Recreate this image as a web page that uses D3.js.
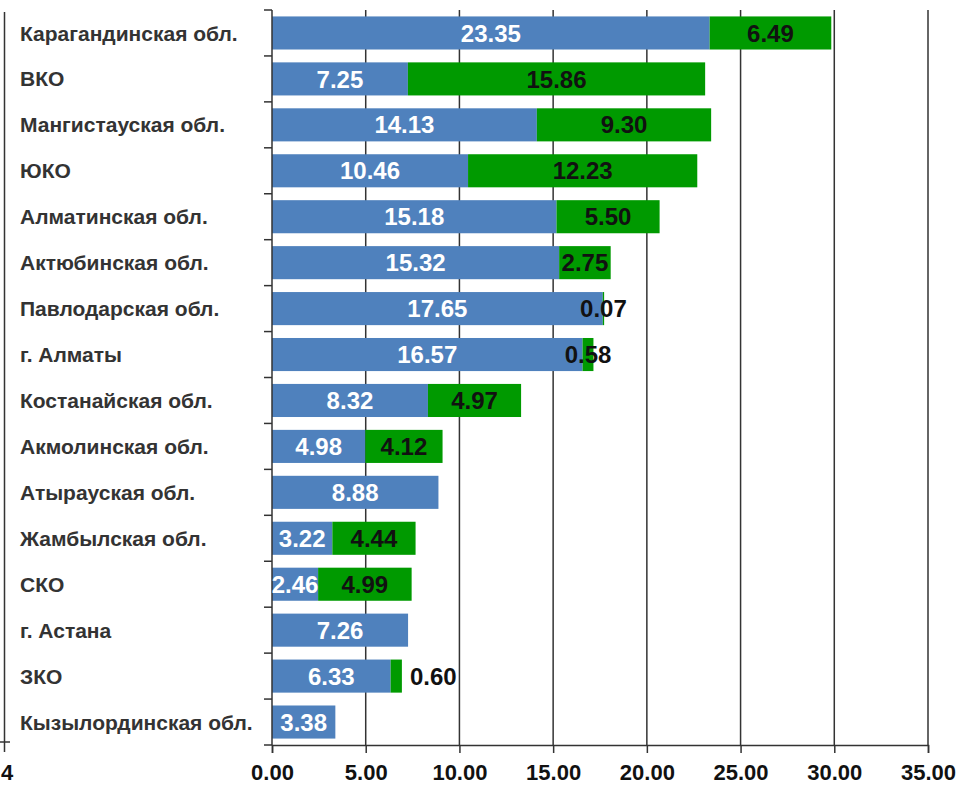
<!DOCTYPE html>
<html><head><meta charset="utf-8">
<script src="https://cdn.jsdelivr.net/npm/d3@7"></script>
<style>body{margin:0;background:#fff;} svg{display:block;font-family:"Liberation Sans",Arial,sans-serif;}</style>
</head><body>
<svg id="chart" width="965" height="785"></svg>
<script>
const categories = ["Карагандинская обл.","ВКО","Мангистауская обл.","ЮКО","Алматинская обл.","Актюбинская обл.","Павлодарская обл.","г. Алматы","Костанайская обл.","Акмолинская обл.","Атырауская обл.","Жамбылская обл.","СКО","г. Астана","ЗКО","Кызылординская обл."];
const blueValues = [23.35,7.25,14.13,10.46,15.18,15.32,17.65,16.57,8.32,4.98,8.88,3.22,2.46,7.26,6.33,3.38];
const greenValues = [6.49,15.86,9.30,12.23,5.50,2.75,0.07,0.58,4.97,4.12,null,4.44,4.99,null,0.60,null];
const greenLabelOutside = ["ЗКО"];
const xTicks = [0,5,10,15,20,25,30,35];

const svg = d3.select("#chart");
const x = d3.scaleLinear().domain([0,35]).range([272,928]);
const y = d3.scaleBand().domain(categories).range([10,745]).paddingInner(0.28).paddingOuter(0.14);
const step = y.step();

// left stray axis
svg.append("line").attr("x1",4.5).attr("x2",4.5).attr("y1",12).attr("y2",752).attr("stroke","#333").attr("stroke-width",1.5);
svg.append("line").attr("x1",0).attr("x2",10).attr("y1",742).attr("y2",742).attr("stroke","#333").attr("stroke-width",1.5);
svg.append("text").attr("x",1).attr("y",780).attr("font-size",22).attr("font-weight","bold").attr("fill","#111").text("4");

// gridlines
svg.append("g").selectAll("line").data(xTicks.slice(1)).join("line")
  .attr("x1",d=>x(d)).attr("x2",d=>x(d)).attr("y1",10).attr("y2",745)
  .attr("stroke","#333").attr("stroke-width",1.5);

// bars
const rows = categories.map((c,i)=>({c, b:blueValues[i], g:greenValues[i]}));
const gb = svg.append("g");
gb.selectAll("rect.b").data(rows).join("rect").attr("class","b")
  .attr("x",x(0)).attr("y",d=>y(d.c)).attr("width",d=>x(d.b)-x(0)).attr("height",y.bandwidth())
  .attr("fill","#4f81bd");
gb.selectAll("rect.g").data(rows.filter(d=>d.g!=null)).join("rect").attr("class","g")
  .attr("x",d=>x(d.b)).attr("y",d=>y(d.c)).attr("width",d=>x(d.b+d.g)-x(d.b)).attr("height",y.bandwidth())
  .attr("fill","#009a00");

// y axis
svg.append("line").attr("x1",272).attr("x2",272).attr("y1",10).attr("y2",745).attr("stroke","#333").attr("stroke-width",1.5);
const bounds = d3.range(categories.length+1).map(i=>10+i*step);
svg.append("g").selectAll("line").data(bounds).join("line")
  .attr("x1",264).attr("x2",272).attr("y1",d=>d).attr("y2",d=>d).attr("stroke","#333").attr("stroke-width",1.5);

// category labels
svg.append("g").selectAll("text").data(categories).join("text")
  .attr("x",20).attr("y",d=>y(d)+y.bandwidth()/2).attr("dy","0.36em")
  .attr("font-size",21).attr("font-weight","bold").attr("fill","#333").text(d=>d);

// x axis
const xa = svg.append("g").attr("transform","translate(0,745)")
  .call(d3.axisBottom(x).tickValues(xTicks).tickFormat(d3.format(".2f")).tickSize(8).tickPadding(11));
xa.select(".domain").attr("stroke","#333").attr("stroke-width",1.5);
xa.selectAll(".tick line").attr("stroke","#333").attr("stroke-width",1.5);
xa.selectAll("text").attr("font-size",22).attr("font-weight","bold").attr("fill","#111").attr("font-family","Liberation Sans, Arial, sans-serif");

// value labels
const fmt = d3.format(".2f");
svg.append("g").selectAll("text").data(rows).join("text")
  .attr("x",d=>(x(0)+x(d.b))/2).attr("y",d=>y(d.c)+y.bandwidth()/2).attr("dy","0.36em")
  .attr("text-anchor","middle").attr("font-size",24).attr("font-weight","bold").attr("fill","#fff")
  .text(d=>fmt(d.b));
svg.append("g").selectAll("text").data(rows.filter(d=>d.g!=null)).join("text")
  .attr("x",d=>greenLabelOutside.includes(d.c)? x(d.b+d.g)+8 : (x(d.b)+x(d.b+d.g))/2)
  .attr("y",d=>y(d.c)+y.bandwidth()/2).attr("dy","0.36em")
  .attr("text-anchor",d=>greenLabelOutside.includes(d.c)?"start":"middle")
  .attr("font-size",24).attr("font-weight","bold").attr("fill","#111")
  .text(d=>fmt(d.g));
</script>
</body></html>
